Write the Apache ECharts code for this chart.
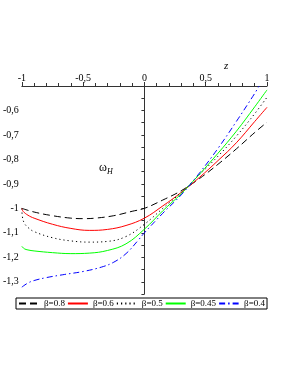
<!DOCTYPE html>
<html><head><meta charset="utf-8">
<script src="https://cdn.jsdelivr.net/npm/echarts@6/dist/echarts.min.js"></script>
<style>html,body{margin:0;padding:0;background:#fff}#c{width:291px;height:376px}</style>
</head><body><div id="c"></div>
<script>
const seriesNames = ['β=0.8','β=0.6','β=0.5','β=0.45','β=0.4'];
const x08 = [-1,-0.9,-0.75,-0.6,-0.5,-0.4,-0.25,-0.1,0,0.15,0.3,0.45,0.6,0.75,0.9,1];
const y08 = [-1.0,-1.015,-1.03,-1.04,-1.042,-1.04,-1.03,-1.012,-1.0,-0.966,-0.928,-0.878,-0.82,-0.757,-0.69,-0.648];
const x06 = [-1,-0.99,-0.95,-0.9,-0.75,-0.6,-0.45,-0.3,-0.15,0,0.15,0.3,0.45,0.6,0.75,0.9,1];
const y06 = [-1.0,-1.012,-1.028,-1.04,-1.065,-1.082,-1.09,-1.086,-1.07,-1.04,-0.99,-0.935,-0.873,-0.805,-0.732,-0.645,-0.587];
const x05 = [-1,-0.995,-0.98,-0.95,-0.9,-0.75,-0.6,-0.45,-0.3,-0.15,0,0.15,0.3,0.45,0.6,0.75,0.9,1];
const y05 = [-1.0,-1.035,-1.06,-1.078,-1.095,-1.12,-1.133,-1.138,-1.135,-1.115,-1.065,-1.0,-0.935,-0.862,-0.787,-0.705,-0.613,-0.546];
const x045 = [-1,-0.98,-0.95,-0.9,-0.75,-0.6,-0.45,-0.3,-0.15,0,0.15,0.3,0.45,0.6,0.75,0.9,1];
const y045 = [-1.155,-1.165,-1.17,-1.174,-1.181,-1.185,-1.183,-1.172,-1.145,-1.085,-1.01,-0.94,-0.86,-0.775,-0.685,-0.585,-0.516];
const x04 = [-1,-0.95,-0.9,-0.8,-0.65,-0.5,-0.35,-0.25,-0.15,-0.05,0,0.15,0.3,0.45,0.6,0.75,0.9,0.935];
const y04 = [-1.322,-1.305,-1.295,-1.283,-1.27,-1.258,-1.24,-1.22,-1.185,-1.13,-1.1,-1.02,-0.945,-0.855,-0.755,-0.645,-0.53,-0.5];
const xTicks = [-1,-0.5,0,0.5,1];
const yLabelTicks = [-0.6,-0.7,-0.8,-0.9,-1,-1.1,-1.2,-1.3];

const FONT = 'Liberation Serif';
function fmt(v){
  const r = Math.round(v*100)/100;
  return String(r).replace('.', ',');
}
function pairs(xs, ys){ return xs.map((x,i)=>[x, ys[i]]); }

const styles = [
  {color:'#000000', type:[7,4]},
  {color:'#ff0000', type:'solid'},
  {color:'#000000', type:[1.2,3]},
  {color:'#00ff00', type:'solid'},
  {color:'#0000ff', type:[6,3,1.5,3]}
];
const datas = [pairs(x08,y08), pairs(x06,y06), pairs(x05,y05), pairs(x045,y045), pairs(x04,y04)];

const chart = echarts.init(document.getElementById('c'), null, {renderer:'canvas'});
chart.setOption({
  animation:false,
  backgroundColor:'#fff',
  textStyle:{fontFamily:FONT},
  grid:{left:18, right:24, top:86, bottom:82},
  xAxis:{
    type:'value', position:'top', min:-1, max:1, interval:0.5,
    axisLine:{onZero:false, lineStyle:{color:'#333', width:1}},
    axisTick:{show:true, length:4, lineStyle:{color:'#333'}},
    minorTick:{show:true, splitNumber:5, length:3, lineStyle:{color:'#333'}},
    splitLine:{show:false},
    axisLabel:{fontFamily:FONT, fontSize:10, color:'#000', margin:3,
      formatter:v=> xTicks.some(t=>Math.abs(t-v)<1e-6)? fmt(v):''}
  },
  yAxis:{
    type:'value', min:-1.35, max:-0.5, interval:0.05,
    axisLine:{onZero:true, lineStyle:{color:'#333', width:1}},
    axisTick:{show:true, length:3, lineStyle:{color:'#333'}},
    splitLine:{show:false},
    axisLabel:{fontFamily:FONT, fontSize:10, color:'#000', margin:3,
      formatter:v=> yLabelTicks.some(t=>Math.abs(t-v)<1e-6)? fmt(v):''}
  },
  legend:{
    left:16, top:298, orient:'horizontal',
    data:seriesNames,
    itemWidth:20, itemHeight:8, itemGap:2,
    padding:[1,2,1,2],
    borderColor:'#000', borderWidth:1,
    itemStyle:{opacity:0, borderWidth:0},
    textStyle:{fontFamily:FONT, fontSize:9, color:'#000'}
  },
  graphic:[
    {type:'text', left:224, top:61, style:{text:'z', font:'italic 11px "Liberation Serif"', fill:'#000'}},
    {type:'text', left:99, top:162, style:{
      text:'{a|ω}{b|H}', fill:'#000',
      rich:{a:{fontFamily:FONT, fontSize:12}, b:{fontFamily:FONT, fontStyle:'italic', fontSize:8, verticalAlign:'bottom', padding:[8,0,0,0]}}
    }}
  ],
  series: datas.map((d,i)=>({
    name:seriesNames[i], type:'line', data:d, showSymbol:false, symbol:'none',
    smooth:0.4, clip:true,
    lineStyle:{color:styles[i].color, type:styles[i].type, width:1},
    itemStyle:{color:styles[i].color}
  }))
});
</script></body></html>
